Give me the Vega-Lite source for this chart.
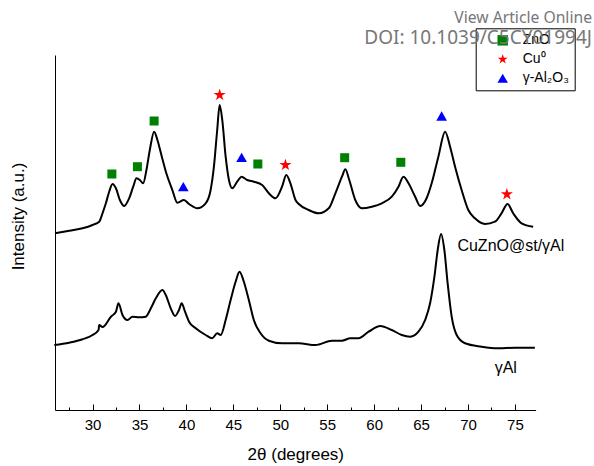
{
"$schema":"https://vega.github.io/schema/vega-lite/v6.json",
"width":480.6,"height":355,"autosize":"none",
"padding":{"left":55,"top":55,"right":58.4,"bottom":56},
"title":{"text":"View Article Online","subtitle":"DOI: 10.1039/C5CY01994J","anchor":"end","frame":"group","orient":"top","dx":56.4,"dy":21,"offset":0,"font":"Noto Sans","fontSize":15.7,"fontWeight":"normal","color":"#777777","subtitleFont":"Noto Sans","subtitleFontSize":19,"subtitleColor":"#777777","subtitlePadding":2},
"config":{"view":{"stroke":null},"font":"Liberation Sans","axis":{"titleFontWeight":400,"titleFont":"Liberation Sans","titleColor":"black"}},
"datasets":{
"curves":[
{"s":"CuZnO","t":26.0,"i":176.7},{"s":"CuZnO","t":27.52,"i":179.3},{"s":"CuZnO","t":28.94,"i":181.7},{"s":"CuZnO","t":30.0,"i":185},{"s":"CuZnO","t":30.71,"i":188.3},{"s":"CuZnO","t":31.06,"i":196.7},{"s":"CuZnO","t":31.42,"i":206.7},{"s":"CuZnO","t":31.77,"i":218.3},{"s":"CuZnO","t":32.13,"i":226},{"s":"CuZnO","t":32.49,"i":221.7},{"s":"CuZnO","t":32.91,"i":210},{"s":"CuZnO","t":33.37,"i":204},{"s":"CuZnO","t":33.9,"i":211.7},{"s":"CuZnO","t":34.33,"i":223.3},{"s":"CuZnO","t":34.68,"i":231.7},{"s":"CuZnO","t":35.04,"i":230},{"s":"CuZnO","t":35.39,"i":226.7},{"s":"CuZnO","t":35.74,"i":240},{"s":"CuZnO","t":36.1,"i":260},{"s":"CuZnO","t":36.56,"i":278.3},{"s":"CuZnO","t":36.91,"i":270},{"s":"CuZnO","t":37.38,"i":253.3},{"s":"CuZnO","t":37.86,"i":236.7},{"s":"CuZnO","t":38.5,"i":220},{"s":"CuZnO","t":39.03,"i":207.3},{"s":"CuZnO","t":39.74,"i":210},{"s":"CuZnO","t":40.28,"i":206},{"s":"CuZnO","t":41.16,"i":201.7},{"s":"CuZnO","t":42.05,"i":206.7},{"s":"CuZnO","t":42.58,"i":220},{"s":"CuZnO","t":42.93,"i":243.3},{"s":"CuZnO","t":43.28,"i":280},{"s":"CuZnO","t":43.54,"i":305},{"s":"CuZnO","t":43.82,"i":290},{"s":"CuZnO","t":44.18,"i":253.3},{"s":"CuZnO","t":44.53,"i":230},{"s":"CuZnO","t":44.88,"i":221.7},{"s":"CuZnO","t":45.41,"i":228.3},{"s":"CuZnO","t":45.88,"i":233.3},{"s":"CuZnO","t":46.47,"i":230},{"s":"CuZnO","t":47.18,"i":228.3},{"s":"CuZnO","t":48.07,"i":225},{"s":"CuZnO","t":48.78,"i":216.7},{"s":"CuZnO","t":49.49,"i":211.7},{"s":"CuZnO","t":50.19,"i":223.3},{"s":"CuZnO","t":50.64,"i":235},{"s":"CuZnO","t":51.08,"i":226.7},{"s":"CuZnO","t":51.62,"i":210},{"s":"CuZnO","t":51.97,"i":206},{"s":"CuZnO","t":53.03,"i":200},{"s":"CuZnO","t":54.09,"i":196.7},{"s":"CuZnO","t":55.16,"i":201.7},{"s":"CuZnO","t":55.87,"i":216.7},{"s":"CuZnO","t":56.57,"i":233.3},{"s":"CuZnO","t":56.93,"i":240.7},{"s":"CuZnO","t":57.35,"i":230},{"s":"CuZnO","t":57.99,"i":210},{"s":"CuZnO","t":58.69,"i":201.7},{"s":"CuZnO","t":59.76,"i":203.3},{"s":"CuZnO","t":60.82,"i":206.7},{"s":"CuZnO","t":61.88,"i":213.3},{"s":"CuZnO","t":62.59,"i":223.3},{"s":"CuZnO","t":63.12,"i":233.3},{"s":"CuZnO","t":63.66,"i":226.7},{"s":"CuZnO","t":64.37,"i":213.3},{"s":"CuZnO","t":64.9,"i":204},{"s":"CuZnO","t":65.6,"i":212},{"s":"CuZnO","t":66.13,"i":226.7},{"s":"CuZnO","t":66.84,"i":253.3},{"s":"CuZnO","t":67.56,"i":278.3},{"s":"CuZnO","t":68.09,"i":263.3},{"s":"CuZnO","t":68.62,"i":243.3},{"s":"CuZnO","t":69.32,"i":220},{"s":"CuZnO","t":70.03,"i":200},{"s":"CuZnO","t":70.74,"i":191.7},{"s":"CuZnO","t":71.81,"i":186},{"s":"CuZnO","t":72.87,"i":188.3},{"s":"CuZnO","t":73.57,"i":196.7},{"s":"CuZnO","t":74.21,"i":206},{"s":"CuZnO","t":74.81,"i":196.7},{"s":"CuZnO","t":75.7,"i":186.7},{"s":"CuZnO","t":76.94,"i":183.3},
{"s":"gAl","t":25.93,"i":65},{"s":"gAl","t":27.52,"i":67.3},{"s":"gAl","t":28.94,"i":70.7},{"s":"gAl","t":30.0,"i":75},{"s":"gAl","t":30.64,"i":80},{"s":"gAl","t":30.71,"i":85},{"s":"gAl","t":31.06,"i":83},{"s":"gAl","t":31.96,"i":93.3},{"s":"gAl","t":32.49,"i":98.3},{"s":"gAl","t":32.76,"i":106.7},{"s":"gAl","t":33.19,"i":95},{"s":"gAl","t":33.72,"i":90},{"s":"gAl","t":34.25,"i":93.3},{"s":"gAl","t":34.96,"i":92.7},{"s":"gAl","t":35.67,"i":93.3},{"s":"gAl","t":36.21,"i":101.7},{"s":"gAl","t":36.74,"i":111.7},{"s":"gAl","t":37.44,"i":120},{"s":"gAl","t":37.8,"i":115},{"s":"gAl","t":38.33,"i":101.7},{"s":"gAl","t":38.79,"i":94},{"s":"gAl","t":39.21,"i":100},{"s":"gAl","t":39.5,"i":106.7},{"s":"gAl","t":39.85,"i":98.3},{"s":"gAl","t":40.28,"i":88.3},{"s":"gAl","t":40.99,"i":81.7},{"s":"gAl","t":42.05,"i":75},{"s":"gAl","t":42.75,"i":71.7},{"s":"gAl","t":43.28,"i":76.7},{"s":"gAl","t":43.65,"i":75},{"s":"gAl","t":44.18,"i":90},{"s":"gAl","t":44.71,"i":110},{"s":"gAl","t":45.24,"i":128.3},{"s":"gAl","t":45.66,"i":138.3},{"s":"gAl","t":46.12,"i":128.3},{"s":"gAl","t":46.65,"i":110},{"s":"gAl","t":47.18,"i":90},{"s":"gAl","t":47.9,"i":76.7},{"s":"gAl","t":48.78,"i":69.3},{"s":"gAl","t":50.19,"i":66.7},{"s":"gAl","t":51.97,"i":66.7},{"s":"gAl","t":53.74,"i":65},{"s":"gAl","t":55.5,"i":69.3},{"s":"gAl","t":56.57,"i":69.3},{"s":"gAl","t":57.46,"i":71.7},{"s":"gAl","t":58.34,"i":71.7},{"s":"gAl","t":59.41,"i":78.3},{"s":"gAl","t":60.65,"i":84},{"s":"gAl","t":61.88,"i":80},{"s":"gAl","t":62.94,"i":75},{"s":"gAl","t":63.84,"i":73.3},{"s":"gAl","t":64.72,"i":78.3},{"s":"gAl","t":65.43,"i":90},{"s":"gAl","t":65.96,"i":106.7},{"s":"gAl","t":66.42,"i":133.3},{"s":"gAl","t":66.77,"i":160},{"s":"gAl","t":67.13,"i":176},{"s":"gAl","t":67.48,"i":160},{"s":"gAl","t":67.83,"i":126.7},{"s":"gAl","t":68.26,"i":93.3},{"s":"gAl","t":68.79,"i":75},{"s":"gAl","t":69.68,"i":66.7},{"s":"gAl","t":71.45,"i":63.3},{"s":"gAl","t":73.22,"i":61.7},{"s":"gAl","t":75.0,"i":62.3},{"s":"gAl","t":77.12,"i":62.3}
],
"markers":[
{"phase":"ZnO","t":32.06,"i":236},{"phase":"ZnO","t":34.78,"i":243.3},{"phase":"ZnO","t":36.56,"i":289},{"phase":"ZnO","t":47.61,"i":246},{"phase":"ZnO","t":56.86,"i":252.3},{"phase":"ZnO","t":62.84,"i":247.7},
{"phase":"Cu⁰","t":43.54,"i":315},{"phase":"Cu⁰","t":50.55,"i":245},{"phase":"Cu⁰","t":74.14,"i":215.7},
{"phase":"γ-Al₂O₃","t":39.67,"i":223.3},{"phase":"γ-Al₂O₃","t":45.88,"i":252.7},{"phase":"γ-Al₂O₃","t":67.19,"i":294}
],
"tagLeft":[{"label":"CuZnO@st/γAl","t":68.87,"i":164}],
"tagCenter":[{"label":"γAl","t":74.02,"i":42}]
},
"encoding":{
"x":{"field":"t","type":"quantitative","scale":{"domain":[26,77.2],"nice":false,"zero":false},
 "axis":{"orient":"bottom","title":"2θ (degrees)","values":[27.5,30,32.5,35,37.5,40,42.5,45,47.5,50,52.5,55,57.5,60,62.5,65,67.5,70,72.5,75],
 "labelExpr":"datum.value % 5 === 0 ? datum.label : ''",
 "tickSize":{"condition":{"test":"datum.value % 5 === 0","value":-6},"value":-3},
 "grid":false,"domainColor":"black","domainWidth":1,"tickColor":"black","tickWidth":1,"labelFont":"Liberation Sans","labelFontSize":15,"labelColor":"black","labelPadding":13,"labelFlush":false,"labelOverlap":false,
 "titleFont":"Liberation Sans","titleFontSize":17,"titleFontWeight":400,"titleColor":"black","titlePadding":11}},
"y":{"field":"i","type":"quantitative","scale":{"domain":[0,355],"nice":false,"zero":false},
 "axis":{"title":"Intensity (a.u.)","ticks":false,"labels":false,"grid":false,"domainColor":"black","domainWidth":1,
 "titleFont":"Liberation Sans","titleFontSize":17,"titleFontWeight":400,"titleColor":"black","titlePadding":28,"titleY":161}}
},
"layer":[
{"data":{"name":"curves"},"mark":{"type":"line","color":"black","strokeWidth":2,"interpolate":"monotone"},"encoding":{"detail":{"field":"s","type":"nominal"}}},
{"data":{"name":"markers"},"mark":{"type":"point","filled":true,"opacity":1,"strokeWidth":0},
 "encoding":{
 "shape":{"field":"phase","type":"nominal","scale":{"domain":["ZnO","Cu⁰","γ-Al₂O₃"],"range":["square","M0,-1L0.2245,-0.309L0.951,-0.309L0.363,0.118L0.588,0.809L0,0.382L-0.588,0.809L-0.363,0.118L-0.951,-0.309L-0.2245,-0.309Z","triangle-up"]},
  "legend":{"title":null,"orient":"none","legendX":420.7,"legendY":-26.7,"strokeColor":"black","padding":5,"labelFontSize":14,"labelFont":"Liberation Sans","labelColor":"black","symbolSize":110,"rowPadding":5,"symbolOffset":15,"labelOffset":13}},
 "color":{"field":"phase","type":"nominal","scale":{"domain":["ZnO","Cu⁰","γ-Al₂O₃"],"range":["#008000","#ff0000","#0000ff"]},
  "legend":{"title":null,"orient":"none","legendX":420.7,"legendY":-26.7,"strokeColor":"black","padding":5,"labelFontSize":14,"labelFont":"Liberation Sans","labelColor":"black","symbolSize":110,"rowPadding":5,"symbolOffset":15,"labelOffset":13}},
 "size":{"condition":[{"test":"datum.phase === 'ZnO'","value":81},{"test":"datum.phase === 'Cu⁰'","value":160}],"value":115}}},
{"data":{"name":"tagLeft"},"mark":{"type":"text","align":"left","baseline":"middle","font":"Liberation Sans","fontSize":16,"color":"black"},"encoding":{"text":{"field":"label"}}},
{"data":{"name":"tagCenter"},"mark":{"type":"text","align":"center","baseline":"middle","font":"Liberation Sans","fontSize":16,"color":"black"},"encoding":{"text":{"field":"label"}}}
]
}
